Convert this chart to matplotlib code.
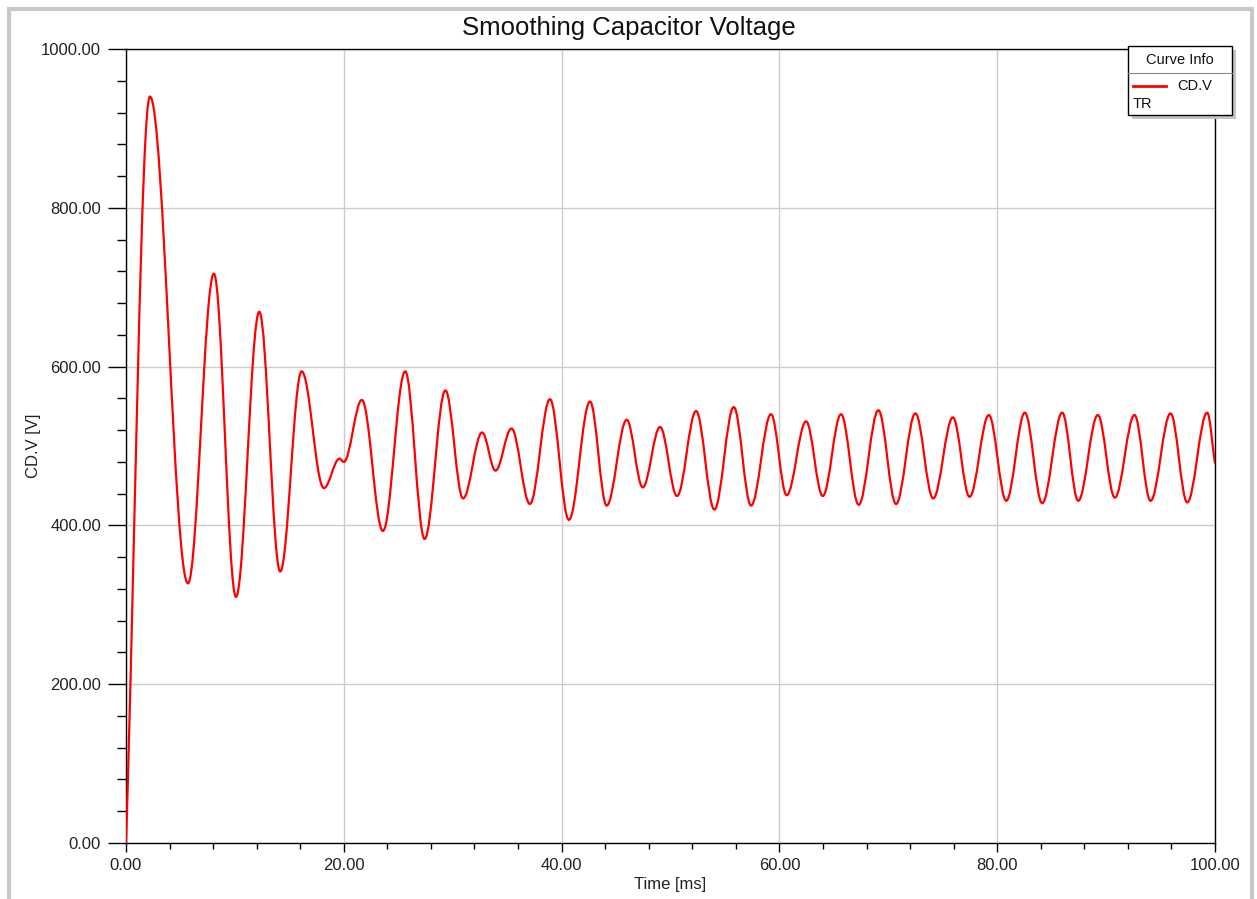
import numpy as np
import matplotlib
matplotlib.use('Agg')
import matplotlib.pyplot as plt
from matplotlib.path import Path
from matplotlib.patches import PathPatch, Rectangle
from matplotlib.lines import Line2D
from matplotlib.ticker import MultipleLocator, FormatStrFormatter

plt.rcParams['font.family'] = ['Liberation Sans', 'DejaVu Sans']

W, H = 1257, 899

# turning points of CD.V (time in ms, voltage in V)
t_ms = [0.0, 2.20, 5.69, 8.07, 10.10, 12.24, 14.16, 16.13, 18.17, 19.60, 20.00,
        21.66, 23.59, 25.64, 27.42, 29.33, 30.95, 32.70, 33.93, 35.40, 37.09,
        38.93, 40.67, 42.61, 44.14, 45.98, 47.45, 49.04, 50.60, 52.35, 54.03,
        55.81, 57.40, 59.23, 60.67, 62.45, 63.98, 65.66, 67.28, 69.09, 70.71,
        72.49, 74.12, 75.93, 77.46, 79.23, 80.83, 82.54, 84.13, 85.97, 87.44,
        89.24, 90.80, 92.61, 94.08, 95.92, 97.45, 99.28, 100.0]
cd_v = [0, 940, 327, 717, 310, 669, 342, 594, 447, 484, 480,
        558, 393, 594, 383, 570, 434, 517, 469, 522, 427,
        559, 407, 556, 425, 533, 448, 524, 437, 544, 420,
        549, 425, 540, 438, 531, 437, 540, 426, 545, 427,
        541, 434, 536, 436, 539, 431, 542, 428, 542, 431,
        539, 435, 539, 431, 541, 429, 542, 478]

x_major, x_minor = 20, 4
y_major, y_minor = 200, 40


def fx(px):
    return px / W


def fy(py):
    return 1 - py / H


def smooth_path(t, v, k=0.364):
    # cubic bezier between turning points, flat handles at the extrema
    verts = [(t[0], v[0])]
    codes = [Path.MOVETO]
    n = len(t)
    for i in range(n - 1):
        t0, v0, t1, v1 = t[i], v[i], t[i + 1], v[i + 1]
        dt = t1 - t0
        c1 = (t0 + k * dt, v0 + (k * (v1 - v0) if i == 0 else 0))
        c2 = (t1 - k * dt, v1 - (k * (v1 - v0) if i + 1 == n - 1 else 0))
        verts += [c1, c2, (t1, v1)]
        codes += [Path.CURVE4] * 3
    return Path(verts, codes)


fig = plt.figure(figsize=(W / 100, H / 100), dpi=100)
ax = fig.add_axes([fx(126), fy(843), fx(1215) - fx(126), fy(49) - fy(843)])

ax.add_patch(PathPatch(smooth_path(t_ms, cd_v), facecolor='none',
                       edgecolor='#ff0000', lw=1.6, zorder=3))

ax.set_xlim(0, 100)
ax.set_ylim(0, 1000)
ax.xaxis.set_major_locator(MultipleLocator(x_major))
ax.xaxis.set_minor_locator(MultipleLocator(x_minor))
ax.yaxis.set_major_locator(MultipleLocator(y_major))
ax.yaxis.set_minor_locator(MultipleLocator(y_minor))
ax.xaxis.set_major_formatter(FormatStrFormatter('%.2f'))
ax.yaxis.set_major_formatter(FormatStrFormatter('%.2f'))

ax.grid(True, which='major', color='#cccccc', lw=1.0)
ax.set_axisbelow(True)
for s in ax.spines.values():
    s.set_color('#000000')
    s.set_linewidth(1.0)

ax.tick_params(axis='y', which='major', length=13, width=1, pad=5,
               labelsize=12, labelcolor='#222222')
ax.tick_params(axis='y', which='minor', length=6.5, width=1)
ax.tick_params(axis='x', which='major', length=6.5, width=1, pad=4,
               labelsize=12, labelcolor='#222222')
ax.tick_params(axis='x', which='minor', length=4.3, width=1)

ax.set_xlabel('Time [ms]', fontsize=12, color='#222222')
ax.set_ylabel('CD.V [V]', fontsize=12, color='#222222')
ax.xaxis.set_label_coords(0.5, -(877 - 843) / 794)
ax.yaxis.set_label_coords(-(126 - 41) / 1089, 0.5)

fig.text(fx(629), fy(28), 'Smoothing Capacitor Voltage', ha='center',
         va='center', fontsize=18.5, color='#111111')

# "Curve Info" box with drop shadow
fig.add_artist(Rectangle((fx(1131.5), fy(119)), fx(104.5), fy(0) - fy(69),
                         transform=fig.transFigure, facecolor='#c4c4c4',
                         edgecolor='none', zorder=10))
fig.add_artist(Rectangle((fx(1127.5), fy(115)), fx(104.5), fy(0) - fy(69),
                         transform=fig.transFigure, facecolor='white',
                         edgecolor='#000000', lw=1.0, zorder=11))
fig.add_artist(Line2D([fx(1127.5), fx(1232)], [fy(72.5), fy(72.5)],
                      transform=fig.transFigure, color='#888888', lw=0.8, zorder=12))
fig.text(fx(1180), fy(60.5), 'Curve Info', ha='center', va='center',
         fontsize=10.5, color='#111111', zorder=12)
fig.add_artist(Line2D([fx(1133), fx(1166)], [fy(86), fy(86)],
                      transform=fig.transFigure, color='#ff0000', lw=2.0, zorder=12))
fig.text(fx(1177), fy(86), 'CD.V', ha='left', va='center',
         fontsize=10.5, color='#111111', zorder=12)
fig.text(fx(1133), fy(103.5), 'TR', ha='left', va='center',
         fontsize=10.5, color='#111111', zorder=12)

# light grey window frame (left, top, right only)
fig.add_artist(Line2D([fx(9), fx(9), fx(1252), fx(1252)],
                      [fy(899), fy(9), fy(9), fy(899)],
                      transform=fig.transFigure, color='#c8c8c8', lw=3.0,
                      solid_joinstyle='miter', zorder=0))

fig.savefig('out.png', dpi=100)
